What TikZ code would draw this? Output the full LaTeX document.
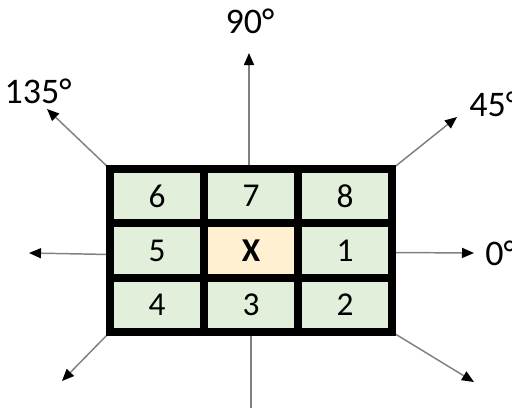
\documentclass[tikz,border=0pt]{standalone}
\usepackage{fontspec}
\setmainfont{Carlito}
\usetikzlibrary{arrows.meta}
\pgfdeclarelayer{background}
\pgfsetlayers{background,main}
\definecolor{cellgreen}{HTML}{E2EFDA}
\definecolor{cellcream}{HTML}{FFF0D2}
\definecolor{arrowgray}{HTML}{808080}
\begin{document}
\begin{tikzpicture}[x=0.75pt,y=-0.75pt,
  cell/.style={rectangle,draw=black,line width=6pt,fill=cellgreen,
    minimum width=70.5pt,minimum height=40.75pt,inner sep=0pt,outer sep=0pt,
    font=\fontsize{25}{28}\selectfont},
  dirarrow/.style={draw=arrowgray,line width=1.1pt,
    -{Triangle[length=9pt,width=7.5pt,color=black]}},
  plainline/.style={draw=arrowgray,line width=1.1pt},
  anglelabel/.style={font=\fontsize{27}{30}\selectfont,inner sep=0pt}]
\useasboundingbox (0,0) rectangle (512,408);
% cells
\node[cell] (c6) at (157,196.2) {6};
\node[cell] (c7) at (251,196.2) {7};
\node[cell] (c8) at (345,196.2) {8};
\node[cell] (c5) at (157,250.5) {5};
\node[cell,fill=cellcream] (cx) at (251,250.5) {\textbf{X}};
\node[cell] (c1) at (345,250.5) {1};
\node[cell] (c4) at (157,304.8) {4};
\node[cell] (c3) at (251,304.8) {3};
\node[cell] (c2) at (345,304.8) {2};
% arrow ends
\coordinate (e90) at (249,53);
\coordinate (e135) at (47,109);
\coordinate (e45) at (457,117);
\coordinate (e0) at (474,253);
\coordinate (e180) at (29,253);
\coordinate (e225) at (62,381);
\coordinate (e315) at (474,382);
\coordinate (e270) at (251,410);
% connectors behind the grid
\begin{pgfonlayer}{background}
\draw[dirarrow] (c7.north) ++(-2,0) -- (e90);
\draw[dirarrow] (c6.north west) -- (e135);
\draw[dirarrow] (c8.north east) -- (e45);
\draw[dirarrow] (c1.east) ++(0,2) -- (e0);
\draw[dirarrow] (c5.west) ++(0,4) -- (e180);
\draw[dirarrow] (c4.south west) -- (e225);
\draw[dirarrow] (c2.south east) -- (e315);
\draw[plainline] (c3.south) -- (e270);
\end{pgfonlayer}
% labels
\node[anglelabel] (l90) at (250,21) {90°};
\node[anglelabel] (l135) at (38,91) {135°};
\node[anglelabel,anchor=west] (l45) at (469,104) {45°};
\node[anglelabel,anchor=west] (l0) at (485,253) {0°};
\end{tikzpicture}
\end{document}
